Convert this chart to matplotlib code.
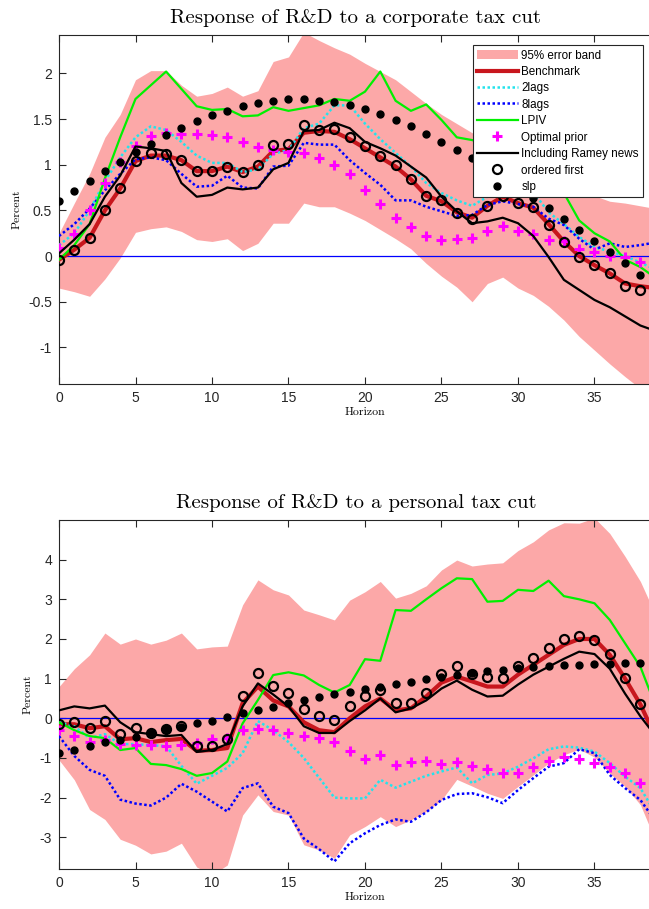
import numpy as np
import matplotlib
matplotlib.use("Agg")
import matplotlib.pyplot as plt
from matplotlib.patches import Patch

horizon = np.arange(40)

# ---------------- Top panel: corporate tax cut ----------------
band_top_hi = [0.25, 0.58, 0.90, 1.30, 1.55, 1.93, 2.03, 2.03, 1.87, 1.75, 1.78, 1.85, 1.75, 1.81, 2.13, 2.18, 2.45, 2.36, 2.28, 2.21,
               2.11, 2.02, 1.93, 1.80, 1.67, 1.55, 1.45, 1.35, 1.28, 1.20, 1.10, 1.00, 0.90, 0.80, 0.72, 0.66, 0.60, 0.58, 0.55, 0.52]
band_top_lo = [-0.35, -0.39, -0.44, -0.25, -0.02, 0.26, 0.30, 0.32, 0.27, 0.18, 0.16, 0.19, 0.06, 0.14, 0.36, 0.36, 0.58, 0.54, 0.54, 0.47,
               0.39, 0.29, 0.19, 0.08, -0.08, -0.22, -0.34, -0.50, -0.30, -0.23, -0.35, -0.43, -0.55, -0.70, -0.88, -1.03, -1.18, -1.32, -1.45, -1.50]
bench_top = [-0.04, 0.07, 0.20, 0.50, 0.74, 1.04, 1.10, 1.10, 1.05, 0.93, 0.93, 0.98, 0.92, 0.98, 1.15, 1.17, 1.35, 1.37, 1.36, 1.28,
             1.18, 1.08, 0.98, 0.84, 0.66, 0.60, 0.48, 0.42, 0.55, 0.65, 0.58, 0.53, 0.35, 0.16, 0.00, -0.10, -0.19, -0.30, -0.33, -0.35]
lags2_top = [0.12, 0.25, 0.50, 0.82, 1.08, 1.30, 1.42, 1.38, 1.25, 1.10, 1.02, 1.02, 0.92, 0.95, 1.12, 1.16, 1.40, 1.45, 1.65, 1.65,
             1.45, 1.28, 1.13, 0.98, 0.80, 0.69, 0.61, 0.55, 0.65, 0.72, 0.75, 0.70, 0.48, 0.35, 0.21, 0.10, 0.05, 0.00, -0.07, -0.15]
lags8_top = [0.22, 0.35, 0.52, 0.72, 0.90, 1.06, 1.08, 1.05, 0.90, 0.76, 0.77, 0.88, 0.75, 0.74, 0.98, 0.99, 1.24, 1.22, 1.22, 1.05,
             0.91, 0.78, 0.61, 0.61, 0.54, 0.49, 0.44, 0.45, 0.56, 0.60, 0.57, 0.54, 0.41, 0.34, 0.19, 0.07, 0.14, 0.10, 0.12, 0.15]
lpiv_top = [-0.04, 0.12, 0.35, 0.85, 1.30, 1.72, 1.87, 2.02, 1.83, 1.64, 1.60, 1.61, 1.53, 1.54, 1.63, 1.59, 1.62, 1.65, 1.72, 1.70,
            1.80, 2.02, 1.70, 1.59, 1.66, 1.49, 1.30, 1.27, 1.22, 1.15, 1.05, 0.97, 0.85, 0.69, 0.39, 0.25, 0.16, -0.04, -0.12, -0.24]
prior_top = [0.09, 0.24, 0.50, 0.80, 1.03, 1.20, 1.31, 1.35, 1.34, 1.34, 1.32, 1.30, 1.25, 1.19, 1.16, 1.14, 1.13, 1.07, 1.00, 0.90,
             0.72, 0.57, 0.42, 0.32, 0.22, 0.18, 0.19, 0.20, 0.28, 0.33, 0.28, 0.24, 0.18, 0.16, 0.08, 0.05, 0.00, -0.01, -0.07, -0.10]
ramey_top = [0.03, 0.18, 0.35, 0.65, 0.88, 1.20, 1.18, 1.15, 0.80, 0.65, 0.67, 0.75, 0.73, 0.75, 0.95, 1.02, 1.37, 1.38, 1.46, 1.40,
             1.25, 1.18, 1.10, 0.98, 0.86, 0.65, 0.49, 0.36, 0.38, 0.42, 0.36, 0.22, -0.01, -0.26, -0.37, -0.48, -0.56, -0.66, -0.76, -0.82]
first_top = [-0.04, 0.07, 0.20, 0.50, 0.74, 1.04, 1.13, 1.12, 1.05, 0.93, 0.93, 0.98, 0.92, 1.00, 1.22, 1.23, 1.44, 1.38, 1.39, 1.30,
             1.20, 1.10, 1.00, 0.84, 0.66, 0.61, 0.47, 0.41, 0.55, 0.66, 0.58, 0.54, 0.34, 0.15, -0.01, -0.10, -0.19, -0.33, -0.37, -0.40]
slp_top = [0.60, 0.71, 0.82, 0.93, 1.03, 1.14, 1.23, 1.32, 1.40, 1.48, 1.54, 1.59, 1.64, 1.68, 1.70, 1.72, 1.72, 1.70, 1.69, 1.65,
           1.61, 1.55, 1.49, 1.42, 1.34, 1.25, 1.16, 1.07, 0.97, 0.86, 0.75, 0.64, 0.53, 0.41, 0.29, 0.17, 0.05, -0.08, -0.21, -0.33]

# ---------------- Bottom panel: personal tax cut ----------------
band_bot_hi = [0.80, 1.25, 1.60, 2.15, 1.87, 2.00, 1.87, 1.97, 2.15, 1.75, 1.80, 1.82, 2.86, 3.49, 3.24, 3.11, 2.73, 2.61, 2.48, 2.98,
               3.19, 3.45, 3.03, 3.15, 3.34, 3.74, 3.99, 3.84, 3.89, 3.92, 4.23, 4.45, 4.75, 4.93, 4.92, 5.05, 4.66, 4.08, 3.45, 2.60]
band_bot_lo = [-1.05, -1.55, -2.30, -2.55, -3.05, -3.20, -3.42, -3.35, -3.15, -3.75, -3.95, -3.70, -2.44, -1.93, -2.35, -2.44, -3.19, -3.32, -3.53, -2.94,
               -2.73, -2.48, -2.73, -2.56, -2.35, -2.06, -1.54, -1.71, -1.89, -2.02, -1.72, -1.43, -1.13, -0.92, -0.78, -0.98, -1.39, -1.72, -2.18, -3.10]
bench_bot = [-0.15, -0.15, -0.25, -0.20, -0.53, -0.50, -0.60, -0.55, -0.52, -0.82, -0.80, -0.75, 0.38, 0.80, 0.45, 0.30, -0.10, -0.30, -0.35, 0.00,
             0.30, 0.50, 0.20, 0.25, 0.55, 0.90, 1.05, 0.93, 0.80, 0.80, 1.10, 1.35, 1.60, 1.85, 2.00, 2.00, 1.60, 1.00, 0.35, -0.48]
lags2_bot = [-0.10, -0.20, -0.50, -0.40, -0.65, -0.65, -0.68, -0.70, -1.20, -1.65, -1.45, -1.25, -0.88, -0.07, -0.30, -0.60, -1.00, -1.50, -2.00, -2.02,
             -2.02, -1.55, -1.75, -1.60, -1.45, -1.34, -1.24, -1.64, -1.43, -1.39, -1.22, -1.01, -0.78, -0.71, -0.74, -0.84, -1.13, -1.47, -1.76, -2.40]
lags8_bot = [-0.45, -0.95, -1.30, -1.45, -2.05, -2.15, -2.20, -2.00, -1.65, -1.85, -2.10, -2.35, -1.76, -1.64, -2.23, -2.39, -3.03, -3.30, -3.61, -3.15,
             -2.90, -2.69, -2.55, -2.61, -2.37, -2.06, -1.91, -1.89, -1.99, -2.14, -1.81, -1.51, -1.22, -1.13, -0.78, -0.88, -1.43, -1.76, -2.06, -2.60]
lpiv_bot = [-0.10, -0.30, -0.45, -0.50, -0.80, -0.75, -1.15, -1.18, -1.28, -1.45, -1.38, -1.09, -0.13, 0.46, 1.09, 1.16, 1.08, 0.84, 0.65, 0.84,
            1.49, 1.45, 2.73, 2.71, 3.00, 3.28, 3.53, 3.51, 2.94, 2.96, 3.24, 3.21, 3.47, 3.08, 3.00, 2.90, 2.48, 1.89, 1.30, 0.30]
prior_bot = [-0.30, -0.45, -0.60, -0.55, -0.65, -0.68, -0.68, -0.70, -0.68, -0.62, -0.52, -0.50, -0.30, -0.28, -0.30, -0.38, -0.45, -0.50, -0.60, -0.82,
             -1.02, -0.92, -1.17, -1.10, -1.07, -1.15, -1.11, -1.20, -1.29, -1.37, -1.37, -1.22, -1.07, -0.97, -1.03, -1.12, -1.24, -1.39, -1.64, -1.90]
ramey_bot = [0.20, 0.30, 0.25, 0.32, -0.10, -0.35, -0.40, -0.45, -0.42, -0.85, -0.80, -0.65, 0.30, 0.88, 0.60, 0.30, -0.20, -0.37, -0.37, -0.07,
             0.20, 0.50, 0.15, 0.25, 0.45, 0.75, 0.95, 0.72, 0.55, 0.57, 0.85, 1.10, 1.30, 1.50, 1.68, 1.62, 1.25, 0.62, 0.05, -0.45]
first_bot = [-0.15, -0.10, -0.25, -0.07, -0.40, -0.25, -0.38, -0.27, -0.20, -0.70, -0.70, -0.53, 0.55, 1.15, 0.82, 0.65, 0.24, 0.07, -0.04, 0.31,
             0.55, 0.71, 0.38, 0.38, 0.63, 1.12, 1.32, 1.11, 1.03, 1.01, 1.32, 1.51, 1.78, 1.99, 2.08, 1.97, 1.62, 1.01, 0.36, -0.30]
slp_bot = [-0.88, -0.80, -0.71, -0.60, -0.55, -0.47, -0.38, -0.27, -0.21, -0.13, -0.06, 0.03, 0.13, 0.21, 0.29, 0.38, 0.45, 0.53, 0.61, 0.67,
           0.73, 0.80, 0.87, 0.92, 0.98, 1.05, 1.09, 1.13, 1.18, 1.22, 1.26, 1.30, 1.33, 1.34, 1.35, 1.36, 1.37, 1.39, 1.40, 1.41]

titles = ["Response of R&D to a corporate tax cut", "Response of R&D to a personal tax cut"]
labels = ["95% error band", "Benchmark", "2lags", "8lags", "LPIV", "Optimal prior",
          "Including Ramey news", "ordered first", "slp"]
xticks = [0, 5, 10, 15, 20, 25, 30, 35]
yticks_top = [-1, -0.5, 0, 0.5, 1, 1.5, 2]
ytick_labels_top = ["-1", "-0.5", "0", "0.5", "1", "1.5", "2"]
yticks_bot = [-3, -2, -1, 0, 1, 2, 3, 4]
ytick_labels_bot = ["-3", "-2", "-1", "0", "1", "2", "3", "4"]

BAND = "#FCA8A8"
RED = "#C8161D"
CYAN = "#22E3EC"
BLUE = "#0000FF"
GREEN = "#00F000"
MAG = "#FF00FF"
AX = "#262626"

W, H = 649, 909
fig = plt.figure(figsize=(W / 100, H / 100), dpi=100)

def px_axes(left, top, bottom, right):
    return fig.add_axes([left / W, 1 - bottom / H, (right - left) / W, (bottom - top) / H])

ax1 = px_axes(59, 35, 384, 59 + 40 * 15.3)
ax2 = px_axes(59, 520, 869, 59 + 40 * 15.3)

def draw(ax, hi, lo, bench, l2, l8, lpiv, prior, ramey, first, slp):
    ax.fill_between(horizon, lo, hi, color=BAND, lw=0, zorder=1)
    ax.axhline(0, color=BLUE, lw=0.9, zorder=2)
    ax.plot(horizon, bench, color=RED, lw=3.0, zorder=3, solid_joinstyle="round")
    ax.plot(horizon, l2, color=CYAN, lw=1.8, ls=(0, (1, 1)), zorder=4)
    ax.plot(horizon, l8, color=BLUE, lw=1.8, ls=(0, (1, 1)), zorder=4)
    ax.plot(horizon, lpiv, color=GREEN, lw=1.6, zorder=4)
    ax.plot(horizon, prior, ls="none", marker="+", color=MAG, ms=7, mew=2.2, zorder=5)
    ax.plot(horizon, ramey, color="black", lw=1.6, zorder=5)
    ax.plot(horizon, first, ls="none", marker="o", mfc="none", mec="black", ms=6.5, mew=1.6, zorder=6)
    ax.plot(horizon, slp, ls="none", marker="o", color="black", ms=5.0, zorder=6)

draw(ax1, band_top_hi, band_top_lo, bench_top, lags2_top, lags8_top, lpiv_top, prior_top, ramey_top, first_top, slp_top)
draw(ax2, band_bot_hi, band_bot_lo, bench_bot, lags2_bot, lags8_bot, lpiv_bot, prior_bot, ramey_bot, first_bot, slp_bot)

ax1.set_ylim(-1.4, 2.42)
ax2.set_ylim(-3.8, 5.0)
for ax, title, yt, ytl in [(ax1, titles[0], yticks_top, ytick_labels_top), (ax2, titles[1], yticks_bot, ytick_labels_bot)]:
    ax.set_xlim(0, 40)
    ax.set_xticks(xticks)
    ax.set_xticklabels([str(t) for t in xticks], fontfamily="Liberation Sans", fontsize=10, color=AX)
    ax.set_yticks(yt)
    ax.set_yticklabels(ytl, fontfamily="Liberation Sans", fontsize=10, color=AX)
    ax.tick_params(direction="in", length=5, width=0.8, color=AX, top=True, right=True, pad=5)
    for s in ax.spines.values():
        s.set_color(AX)
        s.set_linewidth(0.8)
    ax.set_title(title, fontfamily="cmr10", fontsize=15, pad=8.5, x=0.485)
    ax.set_xlabel("Horizon", fontfamily="cmr10", fontsize=8.5, labelpad=2)
    ax.set_ylabel("Percent", fontfamily="cmr10", fontsize=8.5, labelpad=5)

handles = [
    Patch(facecolor=BAND, edgecolor="none"),
    plt.Line2D([], [], color=RED, lw=3.0),
    plt.Line2D([], [], color=CYAN, lw=1.8, ls=(0, (1, 1))),
    plt.Line2D([], [], color=BLUE, lw=1.8, ls=(0, (1, 1))),
    plt.Line2D([], [], color=GREEN, lw=1.6),
    plt.Line2D([], [], ls="none", marker="+", color=MAG, ms=7, mew=2.2),
    plt.Line2D([], [], color="black", lw=1.6),
    plt.Line2D([], [], ls="none", marker="o", mfc="none", mec="black", ms=6.5, mew=1.6),
    plt.Line2D([], [], ls="none", marker="o", color="black", ms=5.0),
]
leg = ax1.legend(handles, labels, loc="upper left", bbox_to_anchor=(473 / W, 1 - 45.5 / H),
                 bbox_transform=fig.transFigure, prop={"family": "Liberation Sans", "size": 8.4},
                 frameon=True, fancybox=False, edgecolor=AX, framealpha=1, borderpad=0.35,
                 labelspacing=0.38, handlelength=3.5, handleheight=0.9, handletextpad=0.3, borderaxespad=0)
leg.get_frame().set_linewidth(0.8)
leg.set_zorder(10)

fig.savefig("out.png", dpi=100)
